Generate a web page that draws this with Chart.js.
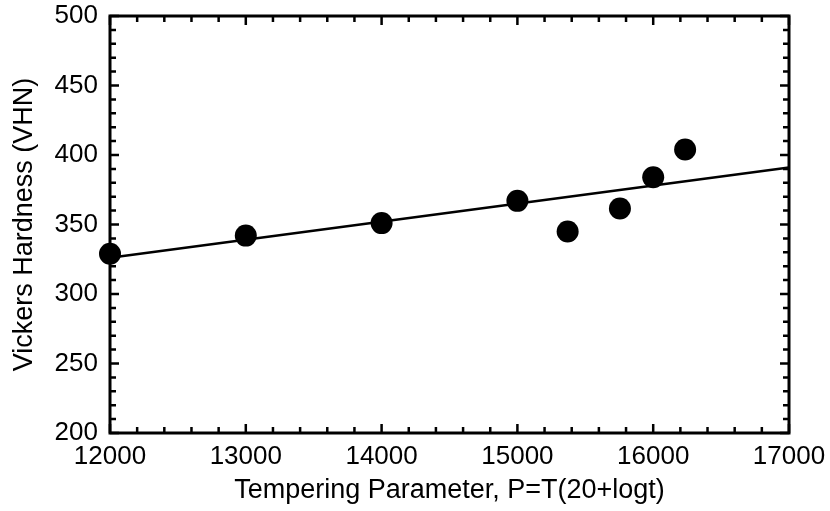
<!DOCTYPE html>
<html>
<head>
<meta charset="utf-8">
<script src="https://cdn.jsdelivr.net/npm/chart.js@4"></script>
<style>
  body { margin: 0; background: #fff; }
  #wrap { width: 830px; height: 511px; }
</style>
</head>
<body>
<div id="wrap"><canvas id="hardness_chart" width="830" height="511"></canvas></div>
<script>
// measured points
const temperParam = [12000, 13000, 14000, 15000, 15370, 15755, 16000, 16235];
const hardnessVHN = [329, 342, 351, 367, 345, 361.5, 384, 404];

const fitParam = [12000, 17000];
const fitVHN = [326, 391];

const xTicks = [12000, 13000, 14000, 15000, 16000, 17000];
const yTicks = [200, 250, 300, 350, 400, 450, 500];

const fontName = "'Liberation Sans', Arial, Helvetica, sans-serif";

const toXY = (xs, ys) => xs.map((x, i) => ({x: x, y: ys[i]}));

// frame + inward ticks on all four sides
const frameTicks = {
    id: 'frameTicks',
    beforeDatasetsDraw(chart) {
        const ctx = chart.ctx;
        const a = chart.chartArea;
        const xs = chart.scales.x, ys = chart.scales.y;
        ctx.save();
        ctx.strokeStyle = '#000';
        ctx.lineCap = 'butt';
        ctx.lineWidth = 2.5;
        for (let v = xs.min; v <= xs.max; v += 200) {
            const px = xs.getPixelForValue(v);
            const len = (v % 1000 === 0) ? 9 : 6;
            ctx.beginPath();
            ctx.moveTo(px, a.bottom); ctx.lineTo(px, a.bottom - len);
            ctx.moveTo(px, a.top); ctx.lineTo(px, a.top + len);
            ctx.stroke();
        }
        for (let v = ys.min; v <= ys.max; v += 10) {
            const py = ys.getPixelForValue(v);
            const len = (v % 50 === 0) ? 9 : 6;
            ctx.beginPath();
            ctx.moveTo(a.left, py); ctx.lineTo(a.left + len, py);
            ctx.moveTo(a.right, py); ctx.lineTo(a.right - len, py);
            ctx.stroke();
        }
        ctx.lineWidth = 3;
        ctx.strokeRect(a.left, a.top, a.right - a.left, a.bottom - a.top);
        ctx.restore();
    }
};

const config = {
    type: 'scatter',
    data: {
        datasets: [{
            label: 'Measured',
            data: toXY(temperParam, hardnessVHN),
            backgroundColor: '#000',
            borderColor: '#000',
            pointRadius: 11,
            pointBorderWidth: 0,
            clip: false
        }, {
            label: 'Fit',
            data: toXY(fitParam, fitVHN),
            showLine: true,
            borderColor: '#000',
            borderWidth: 2.5,
            pointRadius: 0,
            clip: false
        }]
    },
    options: {
        responsive: false,
        animation: false,
        layout: { padding: { top: 16, right: 41, left: 0, bottom: 0 } },
        plugins: {
            legend: { display: false },
            tooltip: { enabled: false }
        },
        scales: {
            x: {
                type: 'linear',
                min: 12000, max: 17000,
                afterBuildTicks: s => { s.ticks = xTicks.map(v => ({value: v})); },
                afterFit: s => {
                    s.height = 78;
                    s.paddingLeft = 0; s.paddingRight = 0;
                },
                grid: { display: false, drawTicks: false },
                border: { display: false },
                ticks: {
                    padding: 8,
                    color: '#000',
                    maxRotation: 0,
                    font: { family: fontName, size: 26 },
                    callback: v => String(v)
                },
                title: {
                    display: true,
                    text: 'Tempering Parameter, P=T(20+logt)',
                    color: '#000',
                    font: { family: fontName, size: 27 },
                    padding: { top: 0, bottom: 4 }
                }
            },
            y: {
                type: 'linear',
                min: 200, max: 500,
                afterBuildTicks: s => { s.ticks = yTicks.map(v => ({value: v})); },
                afterFit: s => {
                    s.width = 110;
                    s.paddingTop = 0; s.paddingBottom = 0;
                },
                grid: { display: false, drawTicks: false },
                border: { display: false },
                ticks: {
                    padding: 12,
                    color: '#000',
                    font: { family: fontName, size: 26 },
                    callback: v => String(v)
                },
                title: {
                    display: true,
                    text: 'Vickers Hardness (VHN)',
                    color: '#000',
                    font: { family: fontName, size: 27 },
                    padding: { top: 8, bottom: 0 }
                }
            }
        }
    },
    plugins: [frameTicks]
};

const hardnessChart = new Chart(
    document.getElementById('hardness_chart'),
    config
);
</script>
</body>
</html>
